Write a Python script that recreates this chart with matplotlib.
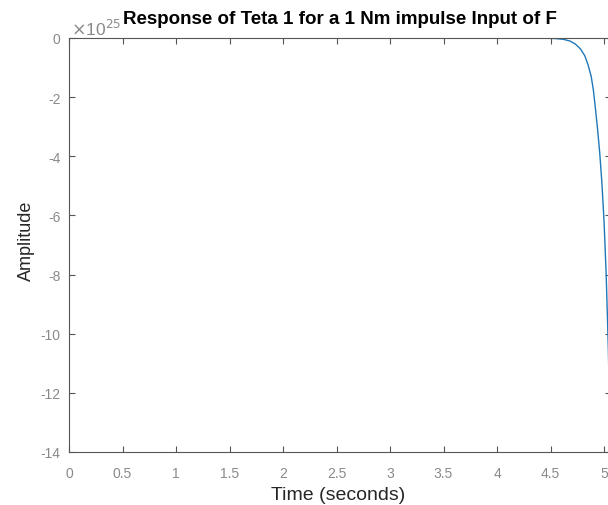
import matplotlib
matplotlib.use("Agg")
import matplotlib.pyplot as plt
from matplotlib.ticker import FuncFormatter

# impulse response (amplitude in units of 1e25)
time_s = [0.0, 1.0, 2.0, 3.0, 4.0, 4.3, 4.45, 4.55, 4.62, 4.68, 4.73, 4.78,
          4.82, 4.85, 4.88, 4.9, 4.92, 4.94, 4.96, 4.98, 5.0, 5.02, 5.04, 5.06]
amp_e25 = [0.0, 0.0, 0.0, 0.0, -0.0005, -0.002, -0.008, -0.02, -0.045, -0.1, -0.2, -0.37,
           -0.6, -0.9, -1.3, -1.75, -2.4, -3.1, -3.9, -4.9, -6.2, -8.0, -10.5, -13.8]

xticks = [0, 0.5, 1, 1.5, 2, 2.5, 3, 3.5, 4, 4.5, 5]
xtick_labels = ["0", "0.5", "1", "1.5", "2", "2.5", "3", "3.5", "4", "4.5", "5"]
yticks = [0, -2, -4, -6, -8, -10, -12, -14]

plt.rcParams['font.family'] = ['Liberation Sans', 'DejaVu Sans']
plt.rcParams['axes.unicode_minus'] = False

W, H = 608, 506
fig = plt.figure(figsize=(W / 100, H / 100), dpi=100)
ax = fig.add_axes([69 / W, 1 - 453 / H, (611 - 69) / W, (453 - 39) / H])

amp = [a * 1e25 for a in amp_e25]
ax.plot(time_s, amp, color="#1f77b8", linewidth=1.0)

ax.set_xlim(0, 5.065)
ax.set_ylim(-14e25, 0.0)
ax.set_xticks(xticks)
ax.set_xticklabels(xtick_labels)
ax.set_yticks([y * 1e25 for y in yticks])
ax.yaxis.set_major_formatter(FuncFormatter(lambda v, p: "%d" % round(v / 1e25)))

ax.tick_params(direction="in", length=4, width=0.8, colors="#555555",
               labelcolor="#8a8a8a", labelsize=10, top=True, right=True)
ax.tick_params(axis="x", pad=10)
ax.tick_params(axis="y", pad=6)
for s in ax.spines.values():
    s.set_color("#555555")
    s.set_linewidth(0.8)

fig.text(71 / W, 1 - 36 / H, r"$\times$10$^{25}$", ha="left", va="baseline",
         fontsize=12.5, color="#8a8a8a")
fig.text(338 / W, 1 - 496 / H, "Time (seconds)", ha="center", va="center",
         fontsize=14, color="#262626")
fig.text(26 / W, 1 - 241 / H, "Amplitude", ha="center", va="center", rotation=90,
         fontsize=13, color="#262626")
fig.text(340 / W, 1 - 20 / H, "Response of Teta 1 for a 1 Nm impulse Input of F",
         ha="center", va="center", fontsize=13.5, fontweight="bold")

fig.savefig("out.png", dpi=100)
